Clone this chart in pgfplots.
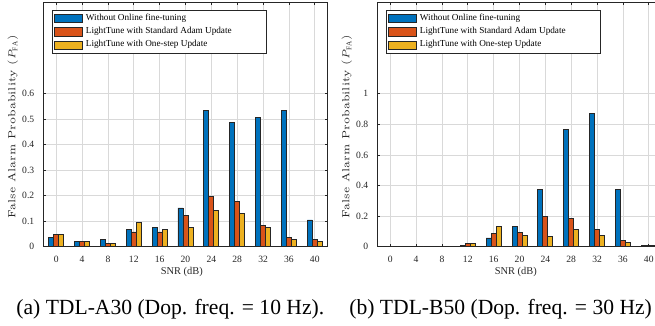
\documentclass[border=0pt]{standalone}
\usepackage{pgfplots}
\pgfplotsset{compat=1.18}
\usepackage{pgfplotstable}
\usepackage{fontspec}
\setmainfont{Liberation Serif}
\definecolor{mblue}{rgb}{0,0.447,0.741}
\definecolor{morange}{rgb}{0.85,0.325,0.098}
\definecolor{myellow}{rgb}{0.929,0.694,0.125}
\definecolor{axgray}{rgb}{0.15,0.15,0.15}

\pgfplotstableread{
x  a     b     c
0  0.038 0.047 0.047
4  0.021 0.021 0.021
8  0.030 0.011 0.011
12 0.067 0.058 0.095
16 0.077 0.058 0.067
20 0.152 0.122 0.077
24 0.533 0.197 0.141
28 0.486 0.179 0.132
32 0.506 0.085 0.077
36 0.533 0.038 0.030
40 0.105 0.030 0.021
}\tabA
\pgfplotstableread{
x  a     b     c
0  0     0     0
4  0     0     0
8  0     0     0
12 0.011 0.020 0.020
16 0.057 0.085 0.131
20 0.131 0.094 0.075
24 0.374 0.197 0.068
28 0.766 0.186 0.114
32 0.869 0.114 0.075
36 0.374 0.039 0.026
40 0.011 0.011 0.011
}\tabB

\pgfplotsset{
  myaxis/.style={
    scale only axis, width=142.2pt, height=122.35pt,
    anchor=south west,
    xmin=-2, xmax=42,
    xtick={0,4,...,40},
    ybar=0pt, bar width=2.5pt,
    tick pos=both, tick align=inside, major tick length=1.3pt,
    axis line style={axgray, line width=0.4pt},
    every tick/.style={axgray, line width=0.35pt},
    grid=major, major grid style={black!15, line width=0.35pt},
    /pgf/number format/assume math mode=true,
    ticklabel style={font=\fontsize{4.8}{5.5}\selectfont, text=axgray},
    xticklabel style={yshift=-1pt},
    yticklabel style={xshift=-1pt},
    xlabel={SNR (dB)},
    xlabel style={font=\fontsize{5.2}{6}\selectfont, text=axgray, at={(axis description cs:0.487,-0.105)}, anchor=center},
    ylabel={\fontfamily{lmr}\selectfont False Alarm Probability ($P_{\mathrm{FA}}$)},
    ylabel style={font=\fontsize{5.15}{6}\selectfont, text=axgray, at={(axis description cs:-0.107,0.49)}, anchor=center, rotate=0},
    legend style={at={(axis description cs:0.0295,0.967)}, anchor=north west,
       draw=axgray, line width=0.4pt, fill=white,
       font=\fontsize{4.6}{5}\selectfont, text=black,
       inner xsep=1.2pt, inner ysep=1.0pt,
       nodes={inner xsep=1.3pt, inner ysep=0.55pt},
       row sep=0.9pt,
       /tikz/every odd column/.append style={column sep=0pt}},
    legend cell align=left,
    legend image code/.code={\draw[##1, line width=0.4pt] (0pt,-2.1pt) rectangle (14pt,2.1pt);},
    every axis plot/.append style={draw=black!85, line width=0.4pt},
  }
}

\begin{document}
\begin{tikzpicture}
\path[use as bounding box] (0,0) rectangle (327.5pt,-163pt);
\clip (0,0) rectangle (327.5pt,-163pt);
\begin{axis}[myaxis, at={(21.65pt,-123.35pt)}, ymin=0, ymax=0.96, ytick={0,0.1,...,0.6},
  yticklabels={0,0.1,0.2,0.3,0.4,0.5,0.6}]
\addplot[fill=mblue] table[x=x,y=a]{\tabA};
\addplot[fill=morange] table[x=x,y=b]{\tabA};
\addplot[fill=myellow] table[x=x,y=c]{\tabA};
\addlegendentry{\makebox[88pt][l]{Without Online fine-tuning}}
\addlegendentry{\makebox[88pt][l]{LightTune with Standard Adam Update}}
\addlegendentry{\makebox[88pt][l]{LightTune with One-step Update}}
\end{axis}
\begin{axis}[myaxis, at={(188.65pt,-123.35pt)}, ymin=0, ymax=1.6, ytick={0,0.2,...,1},
  yticklabels={0,0.2,0.4,0.6,0.8,1}]
\addplot[fill=mblue] table[x=x,y=a]{\tabB};
\addplot[fill=morange] table[x=x,y=b]{\tabB};
\addplot[fill=myellow] table[x=x,y=c]{\tabB};
\addlegendentry{\makebox[88pt][l]{Without Online fine-tuning}}
\addlegendentry{\makebox[88pt][l]{LightTune with Standard Adam Update}}
\addlegendentry{\makebox[88pt][l]{LightTune with One-step Update}}
\end{axis}
\node[anchor=west, font=\fontsize{10.8}{12}\selectfont, inner sep=0pt] at (8pt,-154.5pt) {(a) TDL-A30 (Dop. freq. = 10 Hz).};
\node[anchor=west, font=\fontsize{10.8}{12}\selectfont, inner sep=0pt] at (174.5pt,-154.5pt) {(b) TDL-B50 (Dop. freq. = 30 Hz)};
\end{tikzpicture}
\end{document}
